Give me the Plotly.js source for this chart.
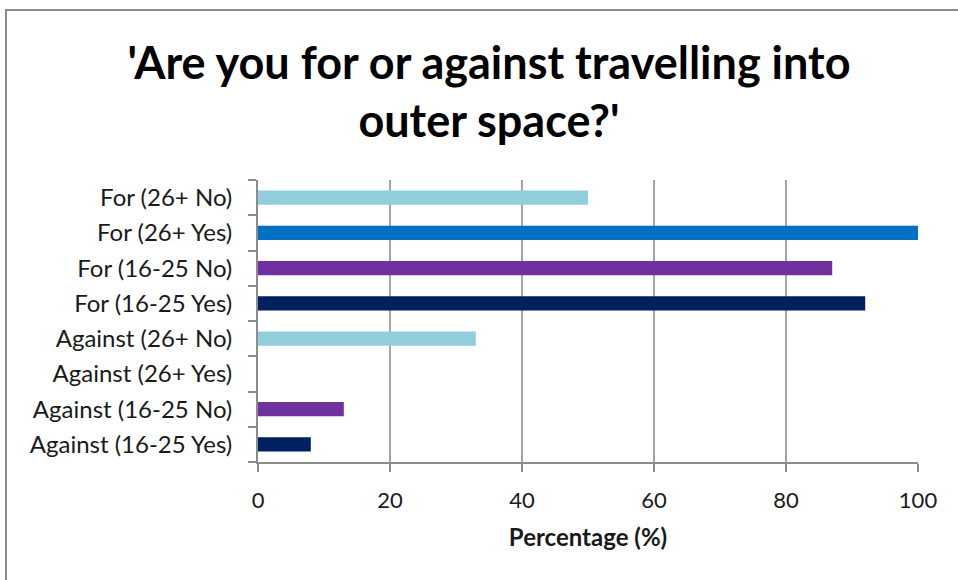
<!DOCTYPE html>
<html>
<head>
<meta charset="utf-8">
<script src="https://cdn.plot.ly/plotly-3.0.1.min.js"></script>
<style>
html,body{margin:0;padding:0;background:#fff;}
#wrap{position:relative;width:958px;height:580px;overflow:hidden;}
#chart{width:958px;height:580px;}
#frame{position:absolute;left:5px;top:9px;width:960px;height:600px;border-left:2px solid #8c8c8c;border-top:2px solid #8c8c8c;pointer-events:none;}
</style>
</head>
<body>
<div id="wrap"><div id="chart"></div><div id="frame"></div></div>
<script>
const categories = [
  "Against (16-25 Yes)",
  "Against (16-25 No)",
  "Against (26+ Yes)",
  "Against (26+ No)",
  "For (16-25 Yes)",
  "For (16-25 No)",
  "For (26+ Yes)",
  "For (26+ No)"
];
const values = [8, 13, 0, 33, 92, 87, 100, 50];
const barColors = ["#002060", "#7030A0", "#0070C0", "#92CDDC", "#002060", "#7030A0", "#0070C0", "#92CDDC"];
const xTicks = [0, 20, 40, 60, 80, 100];
const titleText = "'Are you for or against travelling into<br>outer space?'";
const xTitle = "Percentage (%)";

const trace = {
  type: "bar",
  orientation: "h",
  y: categories,
  x: values,
  marker: {color: barColors, line: {width: 0}},
  hoverinfo: "x+y"
};

const font = "Lato, 'Open Sans', sans-serif";
const layout = {
  width: 958, height: 580,
  margin: {l: 258, r: 40, t: 180, b: 118},
  paper_bgcolor: "#ffffff",
  plot_bgcolor: "#ffffff",
  showlegend: false,
  bargap: 0.6,
  font: {family: font, color: "#1a1a1a"},
  title: {
    text: "<b>" + titleText + "</b>",
    font: {family: font, size: 45, color: "#000"},
    x: 0.5104, xanchor: "center",
    xref: "container",
    yref: "container",
    y: 0.864, yanchor: "middle"
  },
  xaxis: {
    range: [0, 100],
    tickvals: xTicks,
    ticktext: xTicks.map(String),
    showgrid: true,
    gridcolor: "#a6a6a6",
    gridwidth: 2,
    zeroline: false,
    showline: true,
    linecolor: "#8c8c8c",
    linewidth: 2,
    ticks: "outside",
    ticklen: 8,
    tickwidth: 2,
    tickcolor: "#8c8c8c",
    ticklabelstandoff: 10,
    tickfont: {family: font, size: 22, color: "#1a1a1a"},
    title: {text: "<b>" + xTitle + "</b>", font: {family: font, size: 24, color: "#1a1a1a"}, standoff: 17},
    fixedrange: true
  },
  yaxis: {
    type: "category",
    categoryorder: "array",
    categoryarray: categories,
    showgrid: false,
    zeroline: false,
    showline: true,
    linecolor: "#8c8c8c",
    linewidth: 2,
    ticks: "outside",
    tickson: "boundaries",
    ticklen: 8,
    tickwidth: 2,
    tickcolor: "#8c8c8c",
    ticklabelstandoff: 19,
    tickfont: {family: font, size: 24, color: "#1a1a1a"},
    fixedrange: true
  }
};

Plotly.newPlot("chart", [trace], layout, {displayModeBar: false, staticPlot: true});
</script>
</body>
</html>
